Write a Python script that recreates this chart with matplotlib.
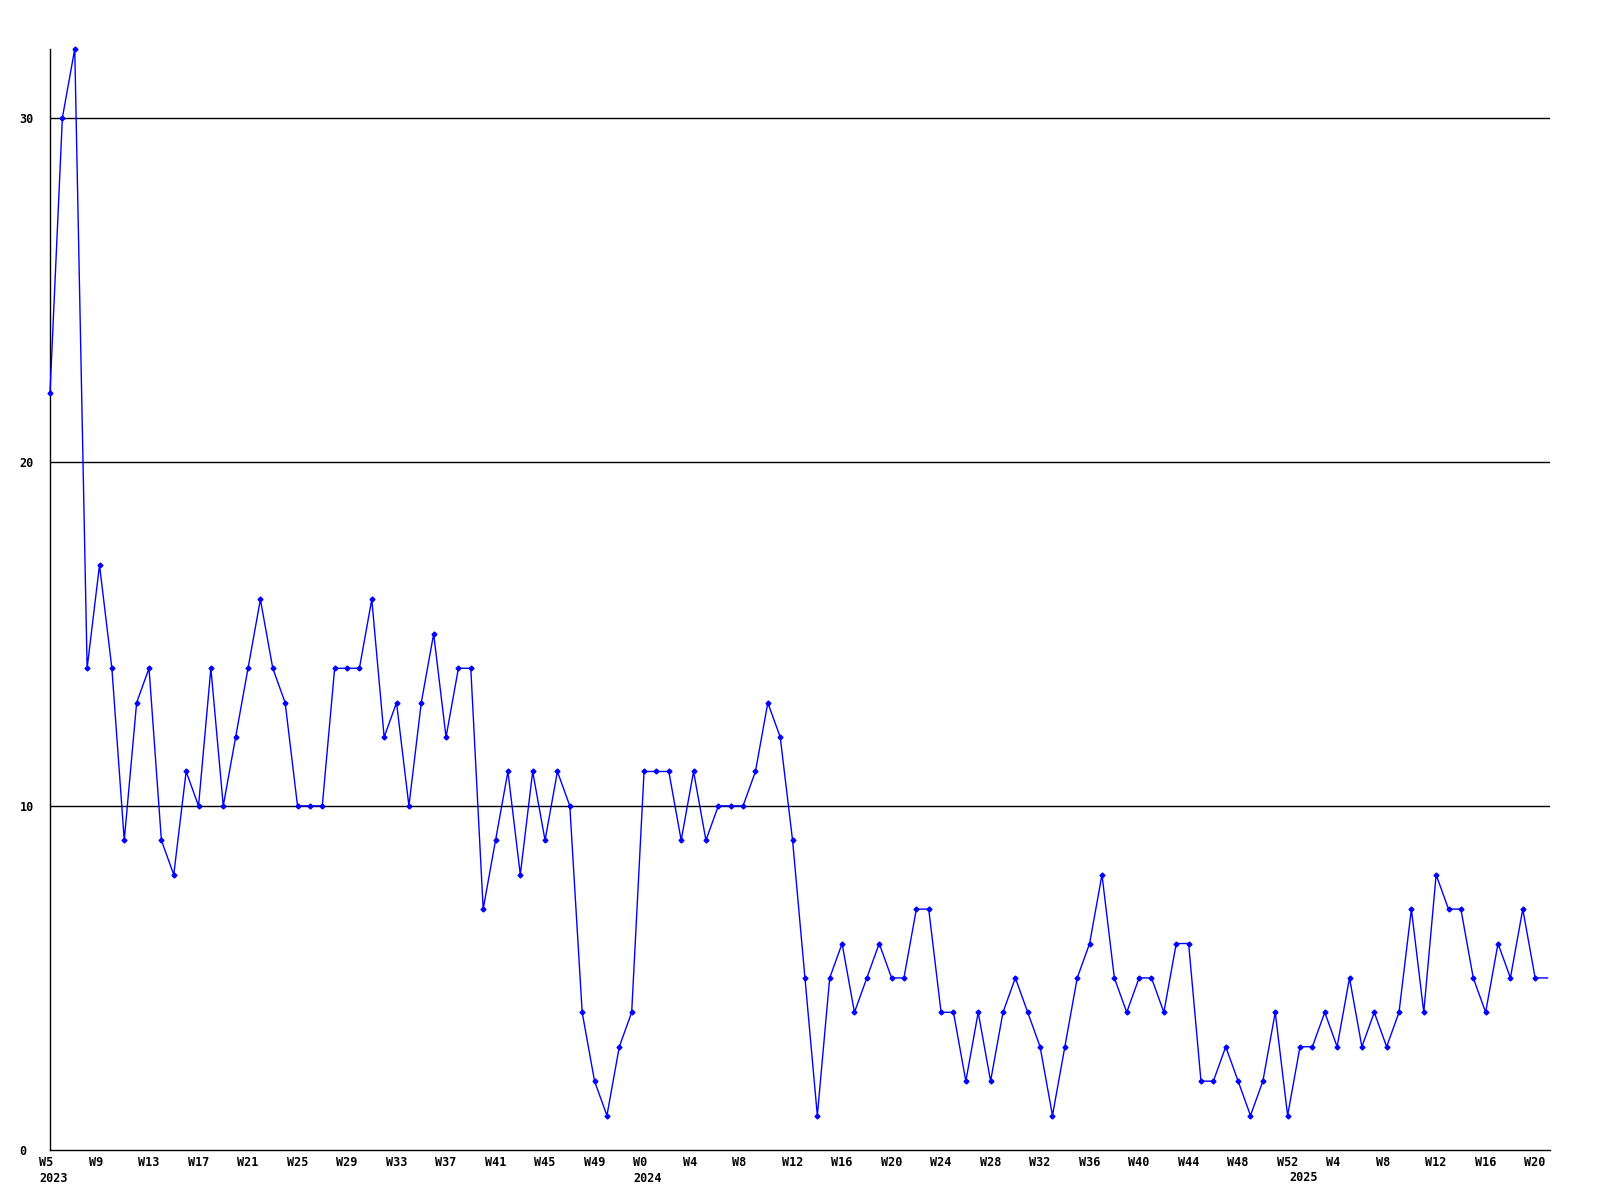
import matplotlib
matplotlib.use("Agg")
import matplotlib.pyplot as plt
import matplotlib.transforms as mtransforms

# weekly counts, 2023 W5 .. 2025 W21
counts = [22, 30, 32, 14, 17, 14, 9, 13, 14, 9, 8, 11, 10, 14, 10, 12, 14, 16, 14, 13,
          10, 10, 10, 14, 14, 14, 16, 12, 13, 10, 13, 15, 12, 14, 14, 7, 9, 11, 8, 11,
          9, 11, 10, 4, 2, 1, 3, 4, 11, 11, 11, 9, 11, 9, 10, 10, 10, 11, 13, 12,
          9, 5, 1, 5, 6, 4, 5, 6, 5, 5, 7, 7, 4, 4, 2, 4, 2, 4, 5, 4,
          3, 1, 3, 5, 6, 8, 5, 4, 5, 5, 4, 6, 6, 2, 2, 3, 2, 1, 2, 4,
          1, 3, 3, 4, 3, 5, 3, 4, 3, 4, 7, 4, 8, 7, 7, 5, 4, 6, 5, 7,
          5, 5]

tick_pos = [0, 4, 8, 12, 16, 20, 24, 28, 32, 36, 40, 44,
            48, 52, 56, 60, 64, 68, 72, 76, 80, 84, 88, 92, 96, 100,
            104, 108, 112, 116, 120]
tick_labels = ["W5\n2023", "W9", "W13", "W17", "W21", "W25", "W29", "W33", "W37", "W41", "W45", "W49",
               "W0\n2024", "W4", "W8", "W12", "W16", "W20", "W24", "W28", "W32", "W36", "W40", "W44", "W48", "W52",
               "W4", "W8", "W12", "W16", "W20"]
year_pos = [101]
year_labels = ["2025"]
y_ticks = [0, 10, 20, 30]

fig = plt.figure(figsize=(16, 12), dpi=100)
ax = fig.add_axes([0.03125, 0.0417, 0.9375, 0.9175])

weeks = list(range(len(counts)))
for y in y_ticks[1:]:
    ax.axhline(y, color="black", lw=1, zorder=1)
ax.plot(weeks, counts, color="#0000ff", lw=1, marker="D", markersize=2.5,
        markevery=list(range(len(counts) - 1)), zorder=3, clip_on=False)

ax.set_xlim(0, 121.2)
ax.set_ylim(0, 32)
for s in ["top", "right"]:
    ax.spines[s].set_visible(False)
for s in ["left", "bottom"]:
    ax.spines[s].set_linewidth(1)

font = dict(family="DejaVu Sans Mono", weight="bold", size=8.5)
ax.set_xticks(tick_pos)
ax.set_xticklabels(tick_labels, ha="left", linespacing=1.35, **font)
ax.set_xticks(year_pos, minor=True)
ax.set_xticklabels(year_labels, minor=True, ha="left", **font)
ax.set_yticks(y_ticks)
ax.set_yticklabels([str(v) for v in y_ticks], ha="left", **font)
ax.tick_params(axis="x", which="major", length=0, pad=4)
ax.tick_params(axis="x", which="minor", length=0, pad=15.5)
ax.tick_params(axis="y", length=0, pad=22)

off = mtransforms.ScaledTranslation(-11 / 100, 0, fig.dpi_scale_trans)
for lab in ax.get_xticklabels() + ax.get_xticklabels(minor=True):
    lab.set_transform(lab.get_transform() + off)

fig.savefig("out.png", dpi=100, facecolor="white")
